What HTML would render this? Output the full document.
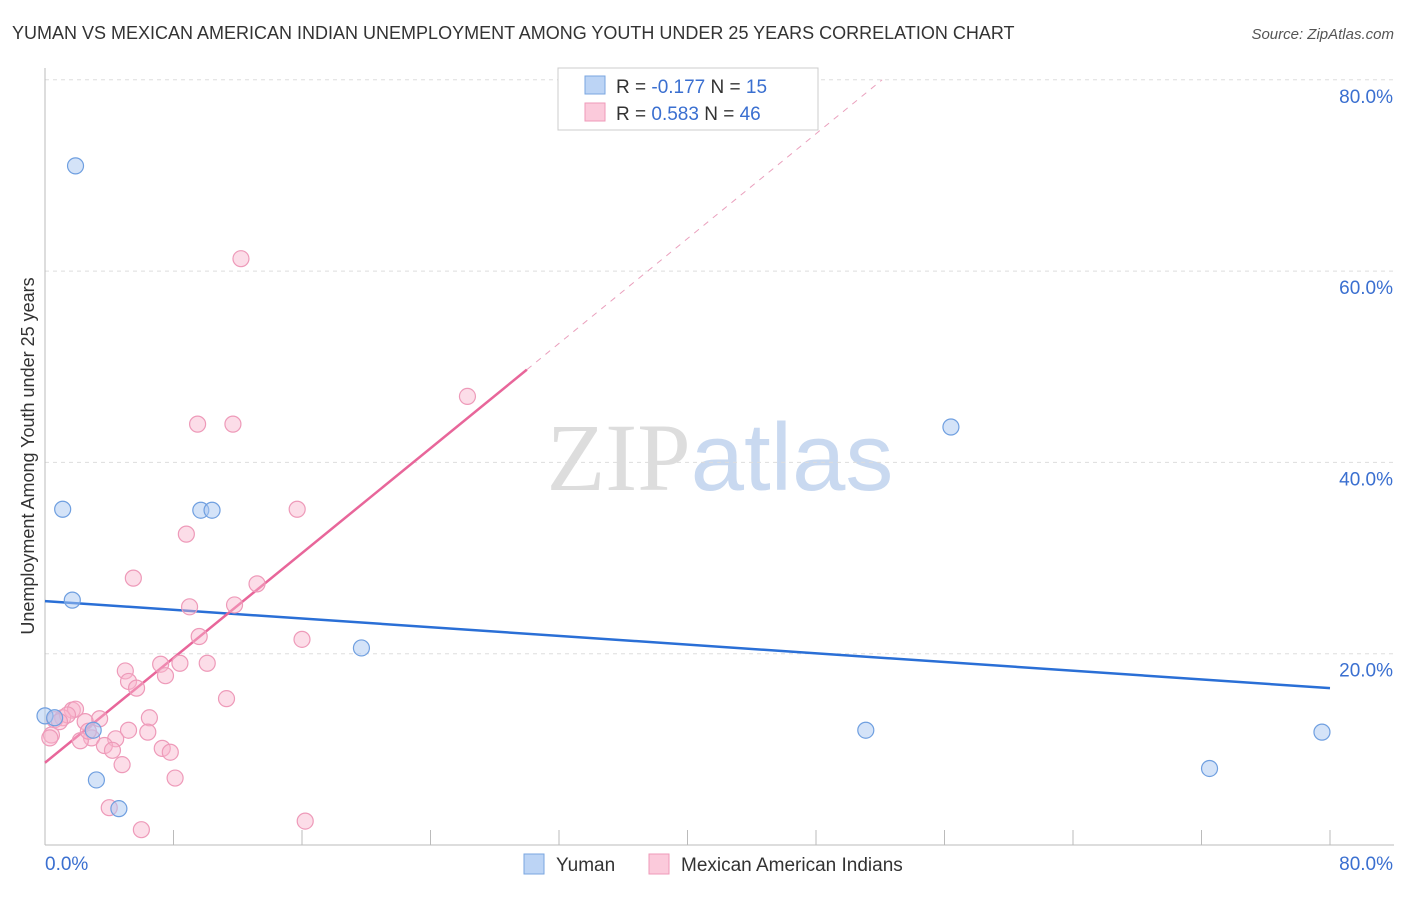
<!DOCTYPE html>
<html><head><meta charset="utf-8"><style>
body{margin:0;background:#fff;font-family:"Liberation Sans",sans-serif;}
</style></head><body>
<svg id="chart" width="1406" height="892" xmlns="http://www.w3.org/2000/svg" style="font-family:'Liberation Sans',sans-serif">
<text x="12" y="39" font-size="18" fill="#333">YUMAN VS MEXICAN AMERICAN INDIAN UNEMPLOYMENT AMONG YOUTH UNDER 25 YEARS CORRELATION CHART</text>
<text x="1394" y="39" font-size="15" fill="#555" text-anchor="end" font-style="italic">Source: ZipAtlas.com</text>
<text x="720" y="490" font-size="96" text-anchor="middle"><tspan fill="#ddd" font-family="Liberation Serif">ZIP</tspan><tspan fill="#c9d9f0">atlas</tspan></text>
<g id="grid"></g><g id="axes"></g><g id="trend"></g><g id="points"></g>
<text transform="translate(34,456) rotate(-90)" font-size="18" fill="#333" text-anchor="middle">Unemployment Among Youth under 25 years</text>
<g>
<rect x="558" y="68" width="260" height="62" fill="#fff" stroke="#ccc"/>
<rect x="585" y="76" width="20" height="18" fill="#bcd4f5" stroke="#7aa6e0"/>
<rect x="585" y="103" width="20" height="18" fill="#fbcadb" stroke="#ef9ab8"/>
<text x="616" y="93" font-size="19" fill="#333">R = <tspan fill="#3a6fd0">-0.177</tspan>   N = <tspan fill="#3a6fd0"> 15</tspan></text>
<text x="616" y="120" font-size="19" fill="#333">R = <tspan fill="#3a6fd0"> 0.583</tspan>   N = <tspan fill="#3a6fd0">46</tspan></text>
</g>
<g>
<rect x="524" y="854" width="20" height="20" fill="#bcd4f5" stroke="#7aa6e0"/>
<text x="556" y="871" font-size="19" fill="#333">Yuman</text>
<rect x="649" y="854" width="20" height="20" fill="#fbcadb" stroke="#ef9ab8"/>
<text x="681" y="871" font-size="19" fill="#333">Mexican American Indians</text>
</g>
</svg>
<script>
const yumanX=[1.9,1.1,9.7,10.4,1.7,19.7,56.4,51.1,79.5,72.5,3.2,4.6,0,0.6,3.0];
const yumanY=[71,35.1,35.0,35.0,25.6,20.6,43.7,12.0,11.8,8.0,6.8,3.8,13.5,13.3,12.0];
const mexX=[12.2,26.3,9.5,11.7,15.7,8.8,5.5,13.2,9.0,11.8,9.6,16.0,7.2,8.4,10.1,5.0,7.5,5.2,5.7,11.3,6.5,1.7,1.9,1.1,0.6,3.4,2.5,5.2,6.4,4.4,2.9,2.2,3.7,4.2,7.3,7.8,0.4,0.3,4.8,8.1,4.0,6.0,16.2,1.4,0.9,2.7];
const mexY=[61.3,46.9,44.0,44.0,35.1,32.5,27.9,27.3,24.9,25.1,21.8,21.5,18.9,19.0,19.0,18.2,17.7,17.1,16.4,15.3,13.3,14.1,14.2,13.3,13.1,13.2,12.9,12.0,11.8,11.1,11.2,10.9,10.4,9.9,10.1,9.7,11.5,11.2,8.4,7.0,3.9,1.6,2.5,13.6,12.9,11.9];
const yTicks=[20,40,60,80];
const yTickLabels=["20.0%","40.0%","60.0%","80.0%"];
const yumanTrend=[25.5,16.4];
const mexTrend=[8.6,1.37];
const NS="http://www.w3.org/2000/svg";
const sx=v=>45+v*(1285/80), sy=v=>845-v*9.565;
function mk(t,a,p){const e=document.createElementNS(NS,t);for(const k in a)e.setAttribute(k,a[k]);p.appendChild(e);return e;}
const grid=document.getElementById('grid'),axes=document.getElementById('axes'),tr=document.getElementById('trend'),pts=document.getElementById('points');
yTicks.forEach((t,i)=>{
 const l=mk('line',{x1:45,x2:1394,y1:sy(t),y2:sy(t),stroke:'#ddd','stroke-dasharray':'4,4'},grid);
 
 
 const tx=mk('text',{x:1393,y:sy(t)+23,'font-size':19,fill:'#3a6fd0','text-anchor':'end'},axes);
 tx.textContent=yTickLabels[i];
 
 
});
mk('line',{x1:45,x2:45,y1:68,y2:845,stroke:'#bbb'},axes);
mk('line',{x1:45,x2:1394,y1:845,y2:845,stroke:'#bbb'},axes);
for(let i=0;i<=10;i++){const l=mk('line',{x1:sx(i*8),x2:sx(i*8),y1:830,y2:845,stroke:'#bbb'},axes);
 
 }
let t0=mk('text',{x:45,y:870,'font-size':19,fill:'#3a6fd0'},axes);t0.textContent='0.0%';


let t1=mk('text',{x:1393,y:870,'font-size':19,fill:'#3a6fd0','text-anchor':'end'},axes);t1.textContent='80.0%';


// trends
let b=mk('line',{x1:sx(0),y1:sy(yumanTrend[0]),x2:sx(80),y2:sy(yumanTrend[1]),stroke:'#2a6fd6','stroke-width':2.5},tr);


const xEnd=30, xDash=(80-mexTrend[0])/mexTrend[1];
let p=mk('line',{x1:sx(0),y1:sy(mexTrend[0]),x2:sx(xEnd),y2:sy(mexTrend[0]+mexTrend[1]*xEnd),stroke:'#e8669a','stroke-width':2.5},tr);


let pd=mk('line',{x1:sx(xEnd),y1:sy(mexTrend[0]+mexTrend[1]*xEnd),x2:sx(xDash),y2:sy(80),stroke:'#eaa0bd','stroke-width':1,'stroke-dasharray':'6,6'},tr);


mexX.forEach((x,i)=>{const c=mk('circle',{cx:sx(x),cy:sy(mexY[i]),r:8,fill:'rgba(248,180,204,0.45)',stroke:'#ee9ab9','stroke-width':1.2},pts);
 
 });
yumanX.forEach((x,i)=>{const c=mk('circle',{cx:sx(x),cy:sy(yumanY[i]),r:8,fill:'rgba(170,200,242,0.5)',stroke:'#6f9fe0','stroke-width':1.2},pts);
 
 });
</script>
</body></html>
